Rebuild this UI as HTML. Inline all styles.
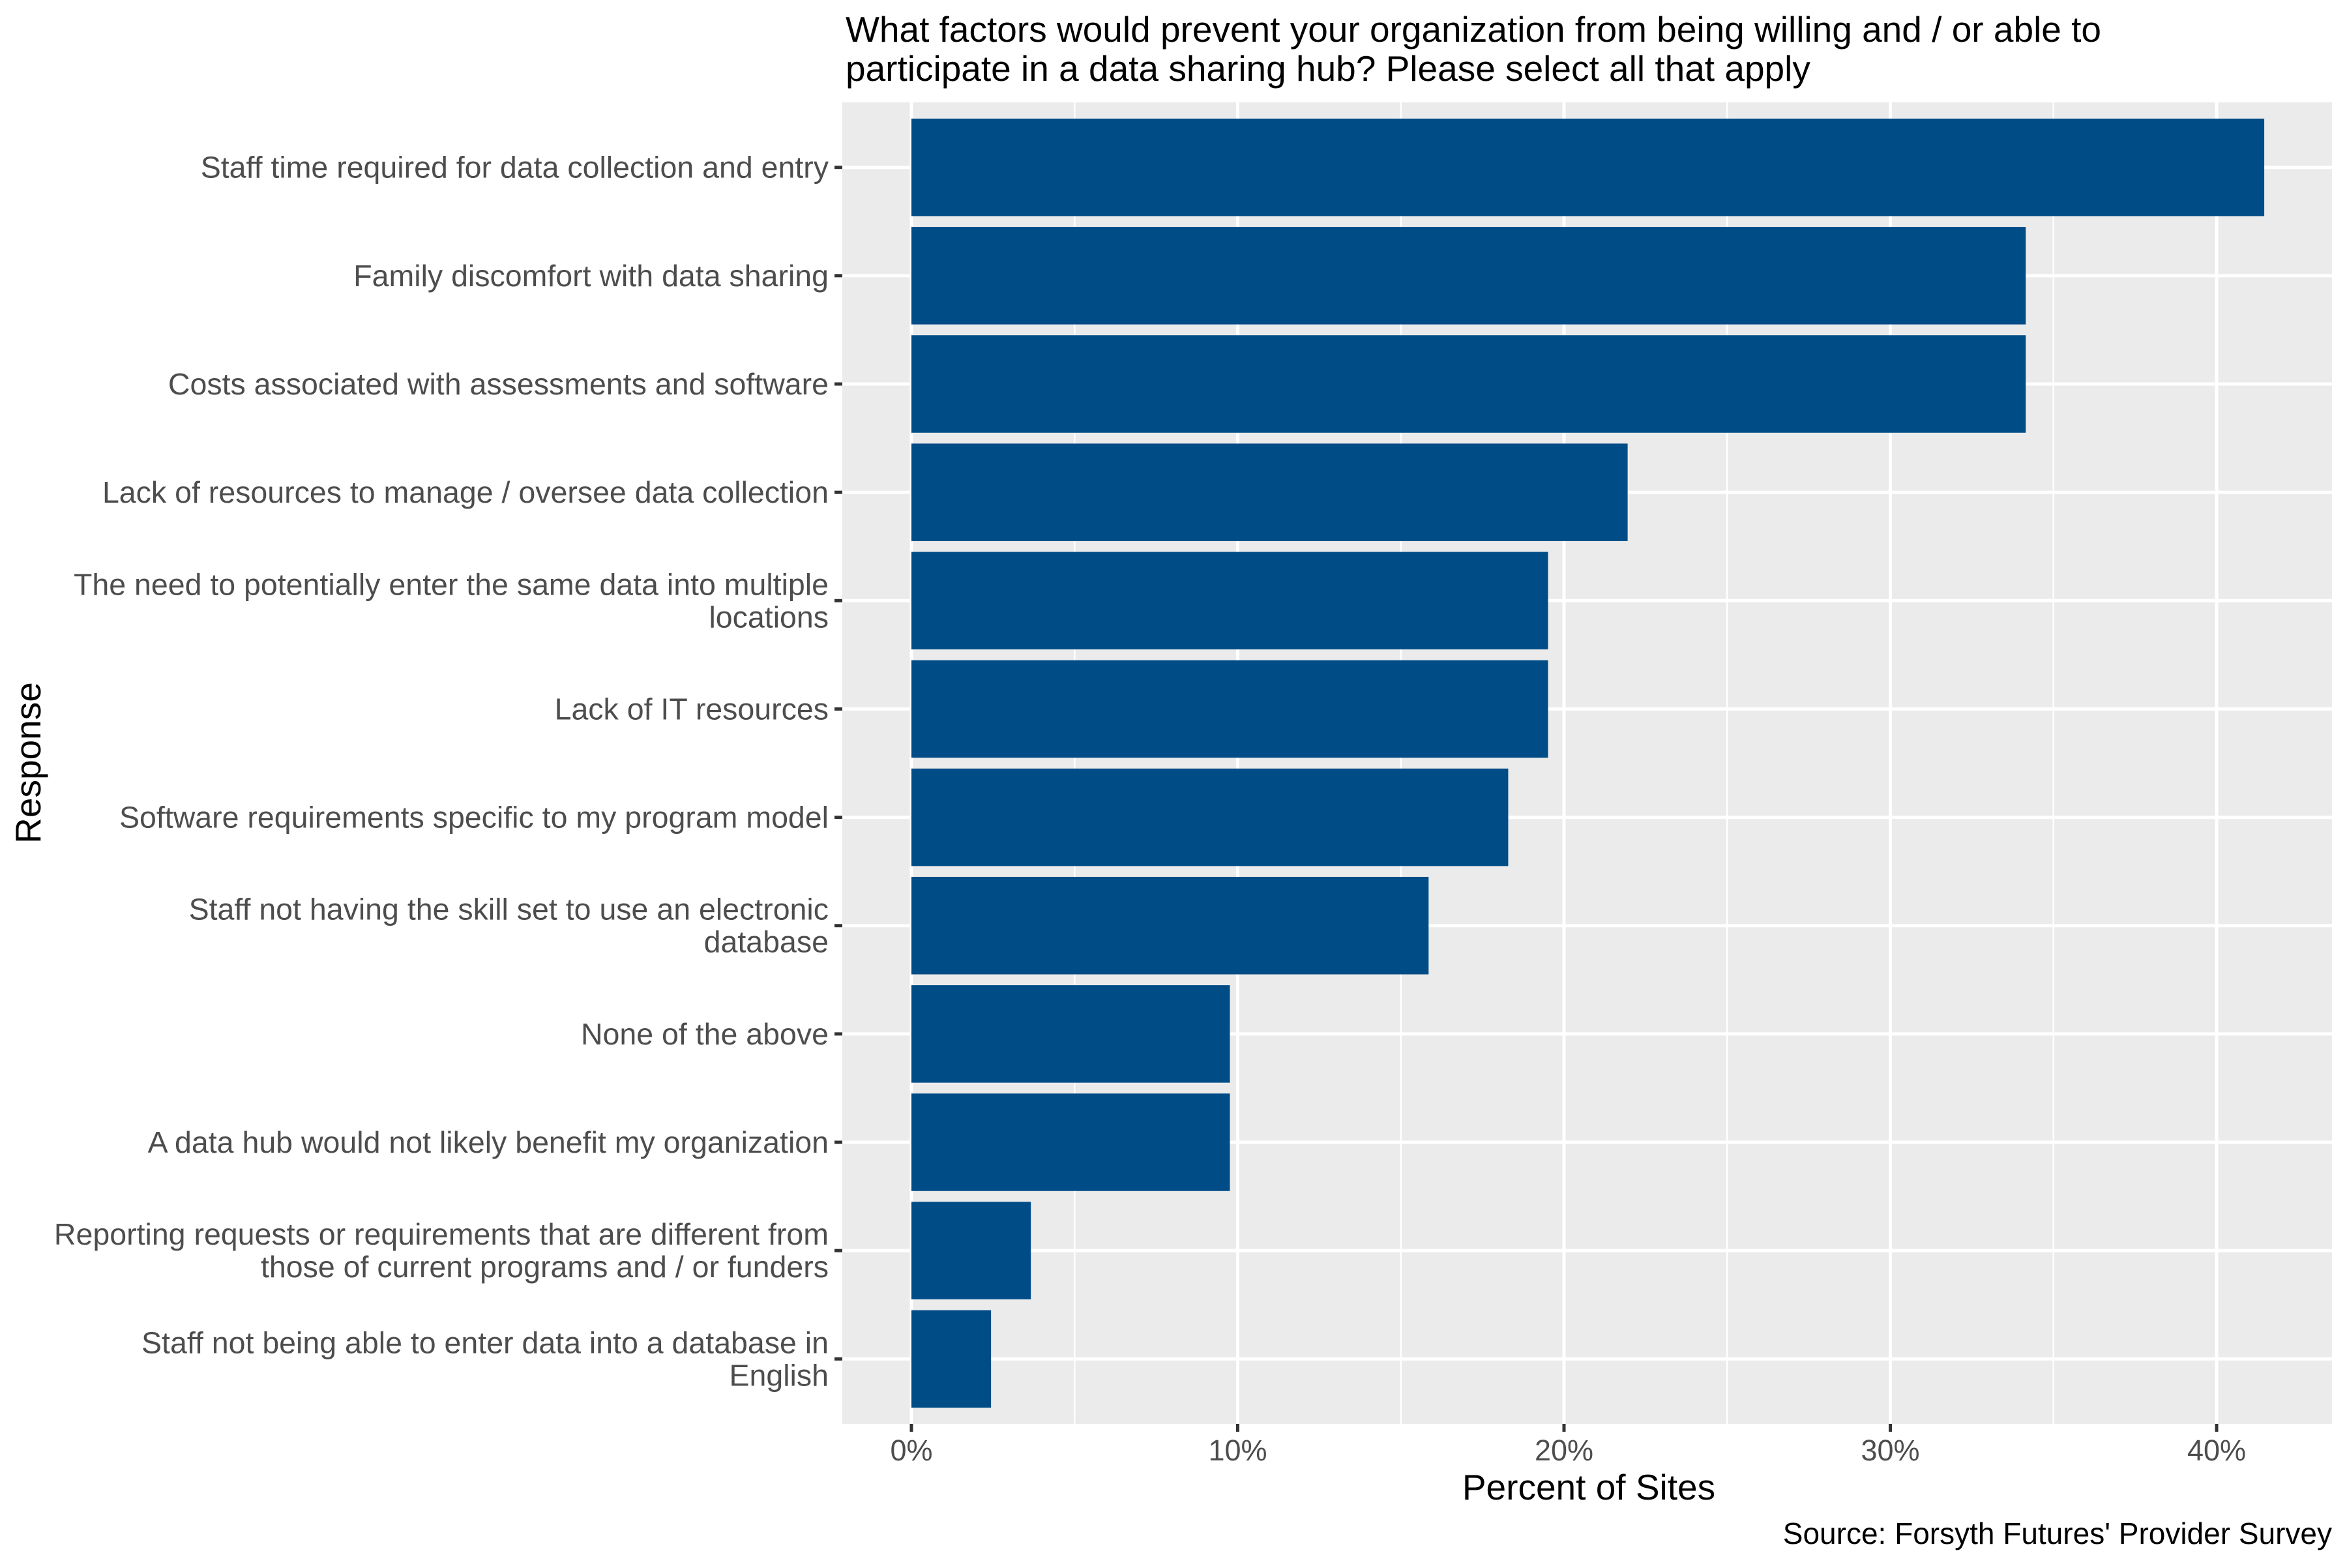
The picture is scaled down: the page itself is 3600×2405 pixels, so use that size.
<!DOCTYPE html>
<html><head><meta charset="utf-8"><style>
html,body{margin:0;padding:0;background:#fff;}
svg text{font-family:"Liberation Sans",Arial,sans-serif;}
</style></head><body>
<svg id="chart" width="3600" height="2400" viewBox="0 0 3600 2400" xmlns="http://www.w3.org/2000/svg">
<rect x="0" y="0" width="3600" height="2400" fill="#fff"/>
<text x="1297" y="64" font-size="55" fill="#000">What factors would prevent your organization from being willing and / or able to</text>
<text x="1297" y="124" font-size="55" fill="#000">participate in a data sharing hub? Please select all that apply</text>
<rect x="1292" y="157" width="2285" height="2027" fill="#EBEBEB"/>
<g id="grid"></g>
<g id="bars"></g>
<g id="yaxis"></g>
<g id="xaxis"></g>
<text x="2437" y="2300" font-size="55" text-anchor="middle" fill="#000">Percent of Sites</text>
<text transform="translate(62,1170) rotate(-90)" font-size="55" text-anchor="middle" fill="#000">Response</text>
<text x="3577" y="2368" font-size="46" text-anchor="end" fill="#000">Source: Forsyth Futures' Provider Survey</text>
</svg>
<script>
const categories = [
  ["Staff time required for data collection and entry"],
  ["Family discomfort with data sharing"],
  ["Costs associated with assessments and software"],
  ["Lack of resources to manage / oversee data collection"],
  ["The need to potentially enter the same data into multiple","locations"],
  ["Lack of IT resources"],
  ["Software requirements specific to my program model"],
  ["Staff not having the skill set to use an electronic","database"],
  ["None of the above"],
  ["A data hub would not likely benefit my organization"],
  ["Reporting requests or requirements that are different from","those of current programs and / or funders"],
  ["Staff not being able to enter data into a database in","English"]
];
const percentValues = [41.46, 34.15, 34.15, 21.95, 19.51, 19.51, 18.29, 15.85, 9.76, 9.76, 3.66, 2.44];
const xTicks = [0, 10, 20, 30, 40];
const xTickLabels = ["0%", "10%", "20%", "30%", "40%"];
const xMinorTicks = [5, 15, 25, 35];

const NS = "http://www.w3.org/2000/svg";
const panelL = 1292, panelR = 3577, panelT = 157, panelB = 2184;
const x0 = 1398, pxPer = 50.05;
function xScale(v){ return x0 + v * pxPer; }
const n = categories.length;
const step = (panelB - panelT) / (n + 0.2);
function yScale(i){ return panelT + (0.6 + i) * step; }
function mk(tag, attrs, parent){
  const e = document.createElementNS(NS, tag);
  for (const k in attrs) e.setAttribute(k, attrs[k]);
  parent.appendChild(e);
  return e;
}
const grid = document.getElementById('grid');
const bars = document.getElementById('bars');
const yaxis = document.getElementById('yaxis');
const xaxis = document.getElementById('xaxis');

xMinorTicks.forEach(v => {
  const l = mk('line', {x1: xScale(v), x2: xScale(v), y1: panelT, y2: panelB, stroke: '#fff', 'stroke-width': 2.5}, grid);
  
  
});
xTicks.forEach((v, i) => {
  const l = mk('line', {x1: xScale(v), x2: xScale(v), y1: panelT, y2: panelB, stroke: '#fff', 'stroke-width': 5}, grid);
  
  
  const t = mk('line', {x1: xScale(v), x2: xScale(v), y1: panelB, y2: panelB + 12, stroke: '#333', 'stroke-width': 5}, xaxis);
  
  
  const tx = mk('text', {x: xScale(v), y: 2240, 'font-size': 45, 'text-anchor': 'middle', fill: '#4D4D4D'}, xaxis);
  tx.textContent = xTickLabels[i];
  
  
});
categories.forEach((lines, i) => {
  const yc = yScale(i);
  const g = mk('line', {x1: panelL, x2: panelR, y1: yc, y2: yc, stroke: '#fff', 'stroke-width': 5}, grid);
  
  
  const bh = step * 0.9;
  const r = mk('rect', {x: xScale(0), y: yc - bh/2, width: xScale(percentValues[i]) - xScale(0), height: bh, fill: '#004C87'}, bars);
  
  
  const tk = mk('line', {x1: panelL - 12, x2: panelL, y1: yc, y2: yc, stroke: '#333', 'stroke-width': 5}, yaxis);
  
  
  const lh = 50;
  const startY = yc + 16 - (lines.length - 1) * lh / 2;
  lines.forEach((s, j) => {
    const t = mk('text', {x: 1271, y: startY + j * lh, 'font-size': 46.5, 'text-anchor': 'end', fill: '#4D4D4D'}, yaxis);
    t.textContent = s;
    
    
  });
});
</script>
</body></html>
